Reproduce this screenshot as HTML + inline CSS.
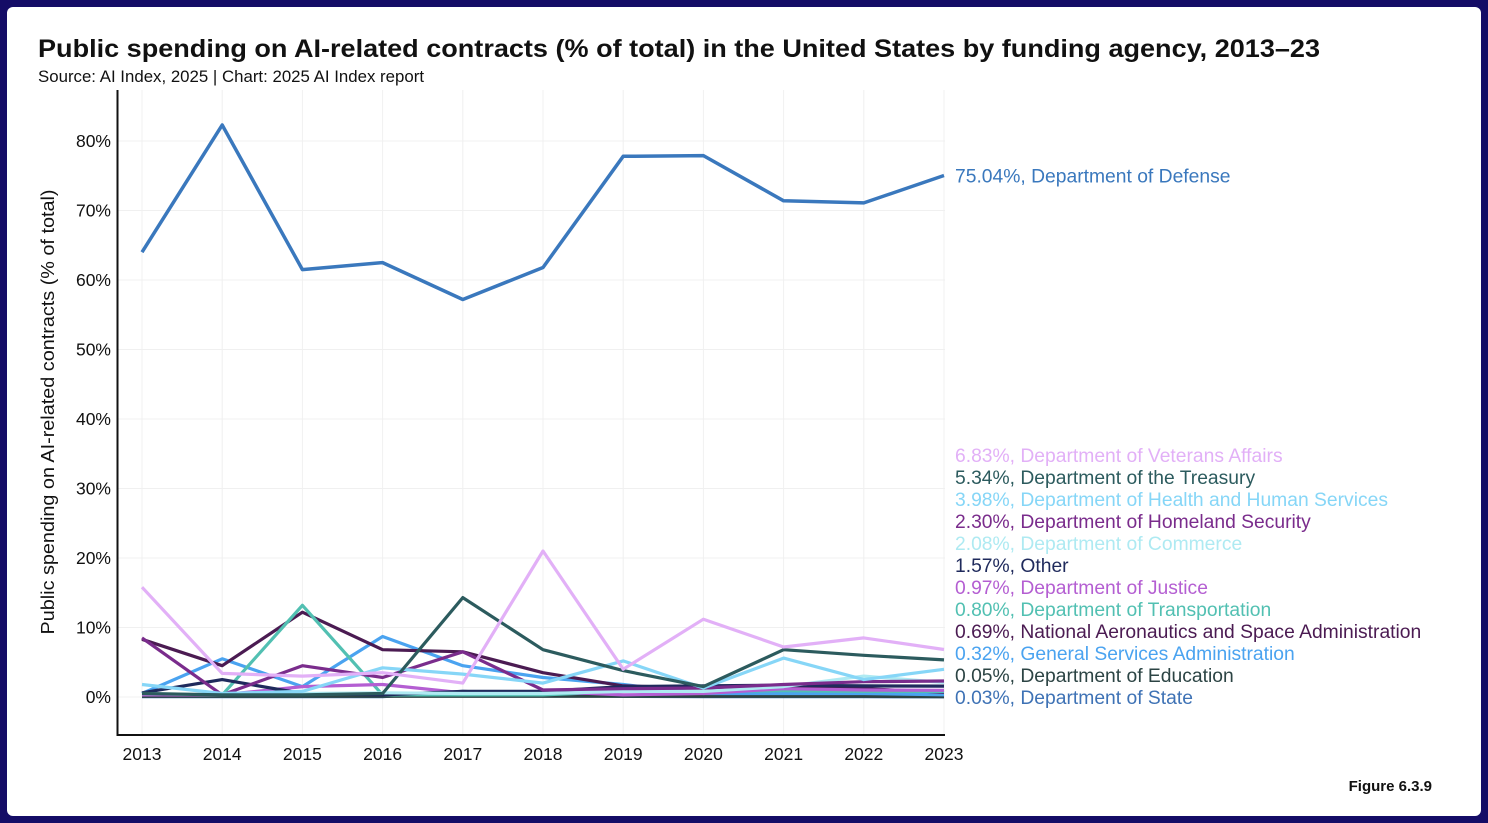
<!DOCTYPE html>
<html><head><meta charset="utf-8"><style>
html,body{margin:0;padding:0;background:#140c66;}
body{width:1488px;height:823px;position:relative;overflow:hidden;font-family:"Liberation Sans",sans-serif;}
#card{position:absolute;left:7px;top:7px;width:1474px;height:809px;background:#fff;border-radius:6px;}
svg{position:absolute;left:0;top:0;}
</style></head><body>
<div id="card"></div>
<svg id="chart" width="1488" height="823">
<text x="38" y="57" font-size="25" font-weight="bold" fill="#111" textLength="1282" lengthAdjust="spacingAndGlyphs">Public spending on AI-related contracts (% of total) in the United States by funding agency, 2013–23</text>
<text x="38" y="82" font-size="16.5" fill="#111" textLength="386" lengthAdjust="spacingAndGlyphs">Source: AI Index, 2025 | Chart: 2025 AI Index report</text>
<text x="1432" y="791" font-size="15" font-weight="bold" fill="#111" text-anchor="end">Figure 6.3.9</text>
<text transform="translate(54,412) rotate(-90)" font-size="18" fill="#111" text-anchor="middle" textLength="445" lengthAdjust="spacingAndGlyphs">Public spending on AI-related contracts (% of total)</text>
<g id="grid"></g><g id="axes"></g><g id="lines"></g><g id="labels"></g>
</svg>
<script>
const years=[2013,2014,2015,2016,2017,2018,2019,2020,2021,2022,2023];
const yTicks=[0,10,20,30,40,50,60,70,80];
const names=["Department of Defense","Department of Veterans Affairs","Department of the Treasury","Department of Health and Human Services","Department of Homeland Security","Department of Commerce","Other","Department of Justice","Department of Transportation","National Aeronautics and Space Administration","General Services Administration","Department of Education","Department of State"];
const colors=["#3a78bd","#e2b0f7","#2c5b5e","#86d6f7","#7a2c8c","#aeeaf2","#1f2a5c","#b45ed2","#52c0b2","#4b1b52","#4aa3f0","#2c4444","#3e72b5"];
const defense=[64,82.3,61.5,62.5,57.2,61.8,77.8,77.9,71.4,71.1,75.04];
const veterans=[15.8,3.4,3,3.5,2,21,4,11.2,7.2,8.5,6.83];
const treasury=[0.5,0.3,0.3,0.5,14.3,6.8,3.8,1.5,6.8,6,5.34];
const hhs=[1.8,0.5,0.8,4.2,3.3,2,5.2,1.3,5.6,2.5,3.98];
const homeland=[8.5,0.3,4.5,2.8,6.5,1,1.2,1.3,1.8,2.2,2.30];
const commerce=[0.5,0.3,0.5,0.6,0.5,0.5,0.8,0.8,1.5,3,2.08];
const other=[0.6,2.5,0.5,0.3,0.8,0.8,1.5,1.6,1.7,1.6,1.57];
const justice=[0.3,0.3,1.5,1.8,0.6,0.8,0.3,0.5,1.2,1,0.97];
const transportation=[0.3,0.3,13.2,0.3,0.3,0.3,0.8,0.8,0.9,0.8,0.80];
const nasa=[8.3,4.5,12.2,6.8,6.5,3.5,1.6,1.3,1.5,1.2,0.69];
const gsa=[0.5,5.5,1.5,8.7,4.5,2.8,1.8,0.5,0.5,0.5,0.32];
const education=[0.1,0.1,0.1,0.1,0.1,0.1,0.1,0.1,0.1,0.1,0.05];
const state=[0.05,0.05,0.05,0.05,0.8,0.3,0.1,0.05,0.05,0.05,0.03];
const series=[defense,veterans,treasury,hhs,homeland,commerce,other,justice,transportation,nasa,gsa,education,state];
const NS="http://www.w3.org/2000/svg";
const x=y=>142+(y-2013)*80.2;
const yv=v=>697-v*6.95;
function mk(tag,attrs,parent){const e=document.createElementNS(NS,tag);for(const k in attrs)e.setAttribute(k,attrs[k]);document.getElementById(parent).appendChild(e);return e;}
years.forEach(yr=>{
 const g=mk('line',{x1:x(yr),x2:x(yr),y1:90,y2:735,stroke:'#f0f0f0','stroke-width':1},'grid');
 
 
 const t=mk('text',{x:x(yr),y:760,'font-size':17.5,'text-anchor':'middle',fill:'#111'},'axes');
 t.textContent=yr;
 
 
});
yTicks.forEach(v=>{
 const g=mk('line',{x1:117,x2:945,y1:yv(v),y2:yv(v),stroke:'#f0f0f0','stroke-width':1},'grid');
 
 
 const t=mk('text',{x:111,y:yv(v)+6,'font-size':17.5,'text-anchor':'end',fill:'#111'},'axes');
 t.textContent=v+'%';
 
 
});
const ax=mk('path',{d:'M117.5 90 V735 H945',fill:'none',stroke:'#111','stroke-width':2},'axes');


for(let i=series.length-1;i>=0;i--){
 const d=series[i].map((v,j)=>(j?'L':'M')+x(years[j]).toFixed(1)+' '+yv(v).toFixed(1)).join(' ');
 const p=mk('path',{d:d,fill:'none',stroke:colors[i],'stroke-width':i==0?3.5:3.2,'stroke-linejoin':'round'},'lines');
 
 
}
series.forEach((s,i)=>{
 const ly=i==0?yv(s[10])+7:455+(i-1)*22+7;
 const t=mk('text',{x:955,y:ly,'font-size':19.3,fill:colors[i]},'labels');
 t.textContent=s[10].toFixed(2)+'%, '+names[i];
 
 
});
</script>
</body></html>
